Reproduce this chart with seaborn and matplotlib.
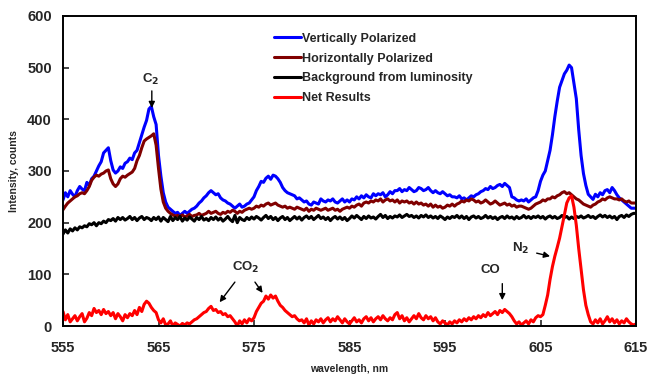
import numpy as np
import pandas as pd
import matplotlib
matplotlib.use("Agg")
import matplotlib.pyplot as plt
import seaborn as sns

# wavelength grid: 555 .. 615 nm, 0.25 nm step (241 samples)
wl_start, wl_stop, wl_step = 555.0, 615.0, 0.25

vertical = [
    244, 258, 250, 262, 255, 250, 262, 270, 265, 262, 278, 272, 285, 290, 300, 310,
    318, 335, 340, 345, 320, 302, 296, 300, 308, 305, 315, 318, 325, 322, 335, 340,
    355, 370, 385, 398, 420, 425, 405, 390, 330, 290, 258, 240, 230, 226, 222, 218,
    220, 214, 218, 222, 218, 222, 226, 228, 232, 238, 242, 248, 252, 258, 262, 258,
    254, 256, 248, 244, 242, 238, 236, 232, 228, 232, 236, 230, 232, 236, 238, 244,
    250, 262, 270, 280, 278, 286, 290, 284, 292, 290, 285, 278, 268, 262, 258, 256,
    254, 252, 246, 248, 244, 240, 242, 236, 234, 240, 238, 236, 246, 242, 240, 244,
    242, 246, 240, 238, 242, 246, 240, 244, 240, 246, 244, 250, 246, 252, 248, 254,
    250, 248, 256, 252, 256, 254, 258, 250, 254, 260, 256, 262, 262, 266, 260, 264,
    262, 268, 264, 260, 262, 268, 266, 262, 264, 268, 262, 258, 262, 258, 256, 260,
    256, 252, 254, 250, 250, 248, 252, 246, 248, 244, 248, 252, 250, 254, 256, 260,
    262, 266, 264, 270, 266, 268, 272, 274, 270, 276, 272, 268, 250, 248, 244, 242,
    244, 242, 246, 240, 244, 248, 250, 262, 280, 292, 300, 320, 340, 370, 405, 435,
    462, 475, 488, 495, 505, 500, 470, 440, 380, 330, 295, 272, 255, 250, 245, 255,
    250, 258, 254, 262, 264, 258, 268, 262, 254, 248, 244, 240, 236, 232, 228, 228,
    228,
]

horizontal = [
    225, 232, 238, 242, 246, 250, 252, 256, 258, 256, 262, 270, 282, 288, 292, 290,
    294, 296, 300, 302, 285, 275, 270, 275, 285, 290, 288, 292, 295, 298, 305, 320,
    330, 345, 358, 362, 365, 368, 372, 350, 305, 265, 240, 228, 222, 218, 215, 213,
    214, 212, 215, 211, 213, 216, 212, 214, 215, 218, 214, 216, 218, 222, 218, 220,
    222, 218, 216, 220, 218, 222, 220, 224, 222, 218, 222, 220, 224, 226, 228, 226,
    228, 232, 230, 234, 232, 236, 238, 234, 236, 238, 234, 232, 230, 232, 228, 230,
    228, 226, 230, 228, 226, 224, 228, 222, 226, 224, 228, 226, 224, 226, 228, 224,
    226, 228, 224, 226, 222, 226, 228, 230, 228, 232, 230, 234, 236, 232, 238, 240,
    238, 242, 240, 244, 242, 246, 240, 244, 246, 242, 244, 240, 244, 238, 242, 240,
    242, 238, 240, 236, 240, 236, 238, 234, 236, 232, 236, 230, 234, 230, 232, 228,
    230, 234, 232, 236, 232, 236, 238, 242, 240, 244, 242, 246, 244, 240, 242, 238,
    240, 244, 240, 236, 238, 242, 238, 234, 236, 238, 234, 236, 232, 234, 230, 232,
    232, 230, 228, 226, 228, 232, 236, 238, 240, 244, 242, 246, 246, 250, 248, 252,
    254, 258, 260, 256, 258, 254, 250, 246, 244, 240, 236, 234, 232, 230, 234, 236,
    240, 242, 246, 244, 248, 250, 248, 246, 246, 244, 246, 242, 240, 242, 238, 238,
    238,
]

background = [
    178, 186, 180, 188, 184, 190, 186, 192, 190, 194, 192, 198, 196, 200, 194, 200,
    198, 203, 200, 206, 204, 208, 203, 210, 206, 210, 205, 208, 212, 206, 210, 204,
    209, 212, 206, 210, 208, 204, 210, 206, 211, 203, 210, 206, 202, 212, 204, 210,
    206, 212, 203, 209, 205, 211, 207, 203, 210, 206, 212, 205, 208, 204, 210, 206,
    211, 205, 209, 203, 207, 212, 206, 202, 214, 200, 210, 206, 204, 210, 206, 211,
    207, 212, 209, 205, 210, 214, 208, 212, 206, 210, 204, 209, 212, 206, 210, 204,
    208, 212, 207, 211, 205, 210, 213, 208, 212, 206, 210, 214, 208, 211, 206, 210,
    204, 209, 212, 207, 211, 206, 210, 204, 208, 213, 209, 214, 210, 206, 212, 208,
    213, 209, 211, 207, 212, 216, 210, 214, 208, 212, 209, 213, 211, 215, 210, 213,
    216, 212, 214, 210, 213, 209, 214, 211, 215, 210, 213, 209, 212, 208, 213, 210,
    206, 211, 208, 212, 210, 214, 209, 213, 208, 212, 206, 211, 213, 209, 212, 208,
    210, 214, 209, 212, 208, 211, 206, 210, 212, 208, 213, 209, 211, 207, 212, 208,
    210, 214, 209, 212, 208, 212, 210, 213, 209, 212, 207, 211, 213, 209, 212, 208,
    210, 214, 210, 212, 207, 211, 208, 212, 210, 213, 209, 211, 214, 210, 212, 208,
    212, 215, 211, 214, 210, 213, 209, 212, 206, 212, 214, 210, 215, 212, 216, 218,
    218,
]

net = [
    28, 12, 22, 8, 14, 20, 10, 18, 24, 8, 15, 26, 20, 34, 26, 30,
    22, 32, 24, 28, 20, 26, 14, 24, 18, 10, 22, 16, 24, 20, 30, 22,
    36, 28, 42, 48, 44, 36, 30, 26, 12, 6, 14, 2, 4, 10, 0, 6,
    3, 0, 5, 2, 6, 4, 8, 12, 14, 18, 22, 26, 28, 34, 38, 30,
    32, 26, 28, 22, 24, 18, 20, 14, 8, 0, 10, 4, 12, 6, 14, 10,
    16, 28, 36, 44, 48, 58, 52, 60, 54, 58, 48, 40, 36, 30, 26, 22,
    18, 20, 14, 10, 12, 6, 14, 2, 10, 4, 12, 8, 14, 6, 12, 16,
    8, 14, 10, 18, 12, 6, 14, 8, 4, 10, 16, 8, 12, 6, 14, 18,
    10, 16, 8, 14, 18, 12, 20, 14, 10, 16, 12, 22, 26, 14, 20, 10,
    16, 8, 14, 20, 14, 24, 16, 12, 20, 14, 18, 10, 16, 8, 4, 10,
    6, 2, 8, 4, 10, 6, 12, 8, 14, 10, 16, 12, 18, 14, 20, 16,
    22, 18, 26, 20, 24, 28, 22, 30, 26, 32, 28, 24, 18, 10, 4, 8,
    2, 6, 10, 4, 12, 8, 16, 20, 18, 22, 40, 60, 90, 115, 135, 152,
    170, 192, 215, 238, 248, 252, 230, 195, 150, 110, 70, 40, 22, 8, 4, 12,
    6, 14, 4, 10, 18, 8, 14, 6, 12, 4, 10, 6, 14, 8, 4, 2,
    4,
]

series_names = ["Vertically Polarized", "Horizontally Polarized",
                "Background from luminosity", "Net Results"]
series_colors = ["#0000FF", "#800000", "#000000", "#FF0000"]

x_ticks = [555, 565, 575, 585, 595, 605, 615]
y_ticks = [0, 100, 200, 300, 400, 500, 600]

wavelength = np.arange(len(vertical)) * wl_step + wl_start

frames = []
for name, vals in zip(series_names, [vertical, horizontal, background, net]):
    frames.append(pd.DataFrame({"wavelength": wavelength, "value": vals, "series": name}))
df = pd.concat(frames, ignore_index=True)

sns.set_style("ticks")
plt.rcParams["font.family"] = ["Liberation Sans", "DejaVu Sans"]

fig = plt.figure(figsize=(6.49, 3.74), dpi=100)
ax = fig.add_axes([63 / 649, 48 / 374, (636 - 63) / 649, (326 - 16) / 374])

sns.lineplot(data=df, x="wavelength", y="value", hue="series",
             hue_order=series_names, palette=series_colors,
             linewidth=2.2, ax=ax, sort=False, estimator=None)

ax.set_xlim(555, 615)
ax.set_ylim(0, 600)
ax.set_xticks(x_ticks)
ax.set_yticks(y_ticks)
ax.tick_params(direction="in", length=4, width=1.2, labelsize=10.5)
ax.tick_params(axis="x", pad=11)
ax.tick_params(axis="y", pad=8)
for lab in ax.get_xticklabels() + ax.get_yticklabels():
    lab.set_fontweight("bold")
for sp in ax.spines.values():
    sp.set_visible(True)
    sp.set_linewidth(1.4)
    sp.set_color("black")

ax.set_xlabel("wavelength, nm", fontsize=7.5, fontweight="bold", labelpad=6)
ax.set_ylabel("Intensity, counts", fontsize=7.5, fontweight="bold", labelpad=6)

leg = ax.legend(loc="upper left", bbox_to_anchor=(0.36, 0.962), frameon=False,
                fontsize=9, handlelength=2.1, handletextpad=0.1,
                labelspacing=0.62, borderaxespad=0)
for t in leg.get_texts():
    t.set_fontweight("bold")
for h in leg.get_lines():
    h.set_linewidth(2.2)

arrow = dict(arrowstyle="-|>", color="black", lw=1.0, mutation_scale=9,
             shrinkA=0, shrinkB=0)
ax.text(564.2, 478, "C$_\\mathbf{2}$", ha="center", va="center",
        fontsize=9.5, fontweight="bold")
ax.annotate("", xy=(564.3, 422), xytext=(564.3, 455), arrowprops=arrow)

ax.text(574.1, 114, "CO$_\\mathbf{2}$", ha="center", va="center",
        fontsize=9.5, fontweight="bold")
ax.annotate("", xy=(571.4, 46), xytext=(573.0, 85), arrowprops=arrow)
ax.annotate("", xy=(575.9, 64), xytext=(575.1, 85), arrowprops=arrow)

ax.text(599.7, 108, "CO", ha="center", va="center",
        fontsize=9.5, fontweight="bold")
ax.annotate("", xy=(601.0, 50), xytext=(601.0, 82), arrowprops=arrow)

ax.text(602.9, 151, "N$_\\mathbf{2}$", ha="center", va="center",
        fontsize=9.5, fontweight="bold")
ax.annotate("", xy=(606.0, 135), xytext=(604.6, 141), arrowprops=arrow)

fig.savefig("out.png", dpi=100)
